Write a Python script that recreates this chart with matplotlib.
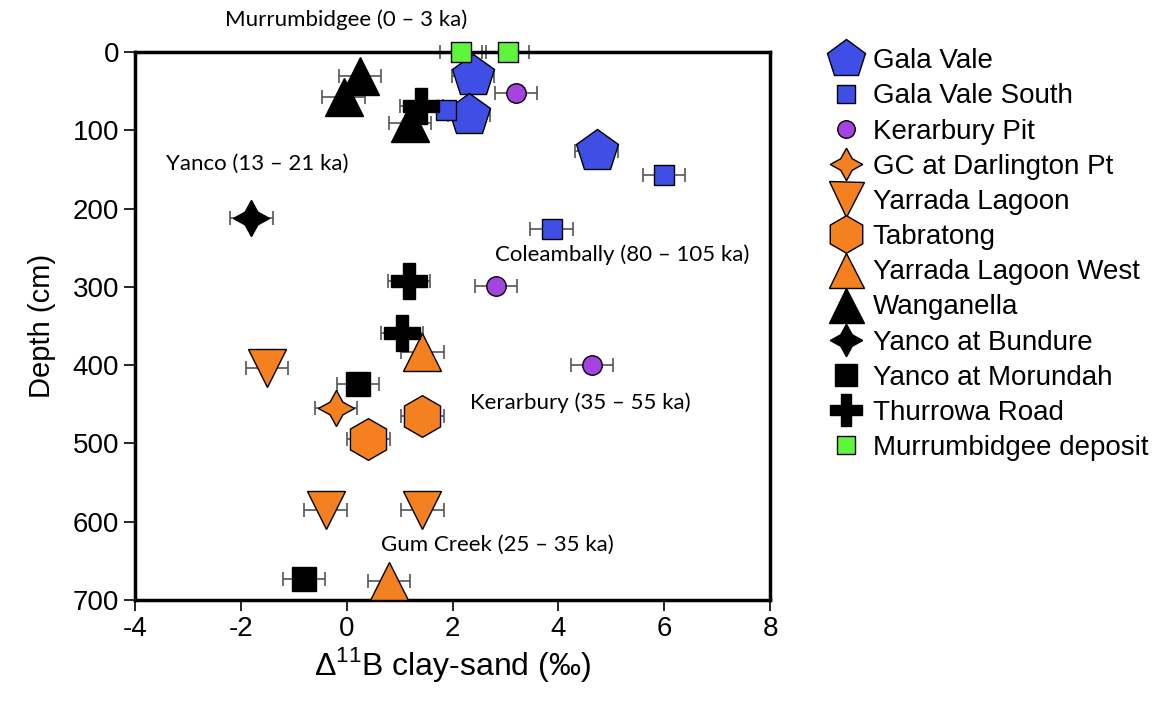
import numpy as np
import matplotlib
matplotlib.use("Agg")
from matplotlib import pyplot as plt

# data: (delta 11B clay-sand, depth cm)
gala_vale_x = [2.39, 2.31, 4.72]
gala_vale_d = [31, 80, 127]
gv_south_x = [1.88, 6.0, 3.87]
gv_south_d = [74, 157, 226]
ker_pit_x = [3.2, 2.82, 4.63]
ker_pit_d = [52, 299, 400]
gc_darl_x = [-0.2]
gc_darl_d = [455]
yarrada_x = [-1.51, -0.40, 1.43]
yarrada_d = [404, 585, 585]
tabratong_x = [1.43, 0.41]
tabratong_d = [465, 495]
yarrada_w_x = [1.43, 0.80]
yarrada_w_d = [383, 676]
wanganella_x = [0.25, -0.06, 1.2]
wanganella_d = [31, 57, 90]
bundure_x = [-1.80]
bundure_d = [212]
morundah_x = [0.21, -0.81]
morundah_d = [424, 673]
thurrowa_x = [1.41, 1.18, 1.05]
thurrowa_d = [69, 293, 359]
murr_x = [2.16, 3.04]
murr_d = [0, 0]
xerr = 0.4

blue = '#3f4fe6'
purple = '#a543e0'
orange = '#f5801f'
green = '#5ef53a'
star4 = (4, 1, 0)

series = [
    ('Gala Vale', gala_vale_x, gala_vale_d, 'p', 32, blue),
    ('Gala Vale South', gv_south_x, gv_south_d, 's', 15, blue),
    ('Kerarbury Pit', ker_pit_x, ker_pit_d, 'o', 14, purple),
    ('GC at Darlington Pt', gc_darl_x, gc_darl_d, star4, 26, orange),
    ('Yarrada Lagoon', yarrada_x, yarrada_d, 'v', 28, orange),
    ('Tabratong', tabratong_x, tabratong_d, 'h', 30, orange),
    ('Yarrada Lagoon West', yarrada_w_x, yarrada_w_d, '^', 28, orange),
    ('Wanganella', wanganella_x, wanganella_d, '^', 28, 'black'),
    ('Yanco at Bundure', bundure_x, bundure_d, star4, 26, 'black'),
    ('Yanco at Morundah', morundah_x, morundah_d, 's', 17, 'black'),
    ('Thurrowa Road', thurrowa_x, thurrowa_d, 'P', 26, 'black'),
    ('Murrumbidgee deposit', murr_x, murr_d, 's', 14, green),
]

plt.rcParams['font.family'] = ['Liberation Sans', 'DejaVu Sans']
plt.rcParams['axes.unicode_minus'] = False
plt.rcParams['mathtext.fontset'] = 'custom'
plt.rcParams['mathtext.rm'] = 'Liberation Sans'

fig = plt.figure(figsize=(11.74, 7.04), dpi=100)
ax = fig.add_axes([0.115, 0.148, 0.541, 0.778])

handles = []
for name, xs, ds, mk, ms, col in series:
    ax.errorbar(xs, ds, xerr=xerr, fmt='none', ecolor='#555555',
                elinewidth=1.2, capsize=5, capthick=1.2, clip_on=False, zorder=2)
    h, = ax.plot(xs, ds, linestyle='none', marker=mk, markersize=ms,
                 markerfacecolor=col, markeredgecolor='black', markeredgewidth=1,
                 clip_on=False, zorder=3, label=name)
    handles.append(h)

ax.set_xlim(-4, 8)
ax.set_ylim(700, 0)
ax.set_xticks(np.arange(-4, 9, 2))
ax.set_yticks(np.arange(0, 701, 100))
for sp in ax.spines.values():
    sp.set_linewidth(2.5)
ax.tick_params(direction='out', length=8, width=1.2, labelsize=20)
ax.set_xlabel('$\\mathrm{\\Delta}^{\\mathrm{11}}$B clay-sand (‰)', fontsize=23, labelpad=2)
ax.set_ylabel('Depth (cm)', fontsize=21, labelpad=12)

lbl = dict(fontsize=16, family=['Lato', 'DejaVu Sans'], va='center', ha='left')
ax.text(-2.3, -42, 'Murrumbidgee (0 – 3 ka)', clip_on=False, **lbl)
ax.text(-3.41, 143, 'Yanco (13 – 21 ka)', **lbl)
ax.text(2.8, 259, 'Coleambally (80 – 105 ka)', **lbl)
ax.text(2.32, 448, 'Kerarbury (35 – 55 ka)', **lbl)
ax.text(0.64, 630, 'Gum Creek (25 – 35 ka)', **lbl)

fig.legend(handles=handles, loc='upper left', bbox_to_anchor=(0.683, 0.967),
           frameon=False, fontsize=20, handletextpad=0.25, labelspacing=0.33,
           markerscale=0.9, handlelength=1.4)

fig.savefig('out.png', dpi=100)
